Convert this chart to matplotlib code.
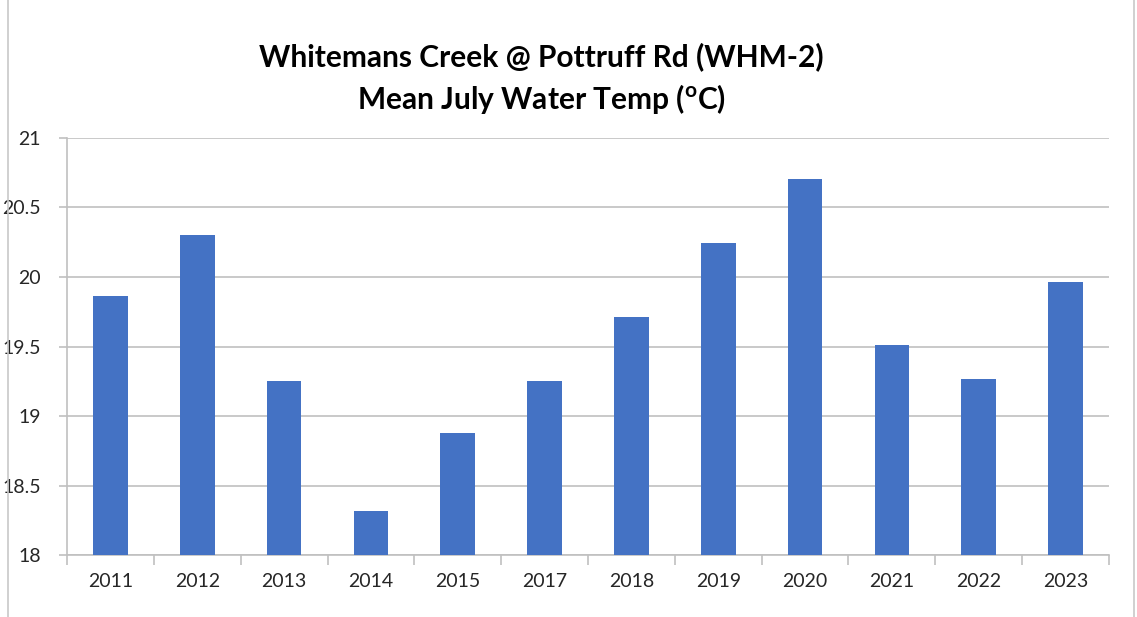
import matplotlib
matplotlib.use("Agg")
import matplotlib.pyplot as plt
from matplotlib.patches import Rectangle
import numpy as np

years = ["2011", "2012", "2013", "2014", "2015", "2017", "2018", "2019", "2020", "2021", "2022", "2023"]
temps = [19.86, 20.30, 19.25, 18.32, 18.88, 19.25, 19.71, 20.24, 20.70, 19.51, 19.27, 19.96]
yticks = [18, 18.5, 19, 19.5, 20, 20.5, 21]
ytick_labels = ["18", "18.5", "19", "19.5", "20", "20.5", "21"]

plt.rcParams['font.family'] = ['Lato', 'DejaVu Sans']
plt.rcParams['mathtext.fontset'] = 'custom'
plt.rcParams['mathtext.rm'] = 'Lato:bold'
plt.rcParams['mathtext.bf'] = 'Lato:bold'

fig = plt.figure(figsize=(11.37, 6.17), dpi=100)
ax = fig.add_axes([67/1137, 1-555.3/617, (1109-67)/1137, (555.3-137.7)/617])

x = np.arange(len(years))
ax.bar(x, temps, width=0.40, color="#4472C4", zorder=3)

ax.set_xlim(-0.5, len(years)-0.5)
ax.set_ylim(18, 21)
ax.set_yticks(yticks)
ax.set_yticklabels(ytick_labels)
ax.set_xticks(x)
ax.set_xticklabels(years)
ax.set_xticks(np.arange(-0.5, len(years), 1), minor=True)

ax.grid(axis='y', color="#c0c0c0", linewidth=1.2, zorder=0)
for s in ['top', 'right']:
    ax.spines[s].set_visible(False)
ax.spines['left'].set_color("#c0c0c0")
ax.spines['bottom'].set_color("#c0c0c0")
ax.spines['left'].set_linewidth(1.2)
ax.spines['bottom'].set_linewidth(1.2)

ax.tick_params(axis='y', length=6, color="#c0c0c0", width=1.2, labelsize=14, labelcolor="#262626", pad=13)
ax.tick_params(axis='x', which='major', length=0, labelsize=14, labelcolor="#262626", pad=13)
ax.tick_params(axis='x', which='minor', length=7, color="#c0c0c0", width=1.2)

fig.text(541/1137, 1-57/617, "Whitemans Creek @ Pottruff Rd (WHM-2)", ha='center', va='center',
         fontsize=21.5, fontweight='bold', color='black')
fig.text(541/1137, 1-99/617, r"Mean July Water Temp ($^{\mathrm{o}}$C)", ha='center', va='center',
         fontsize=21.5, fontweight='bold', color='black')

fig.patches.append(Rectangle((8/1137, -0.01), (1134-8)/1137, 1.02, transform=fig.transFigure,
                             fill=False, edgecolor="#c8c8c8", linewidth=1.2))

fig.savefig("out.png", dpi=100, facecolor='white')
